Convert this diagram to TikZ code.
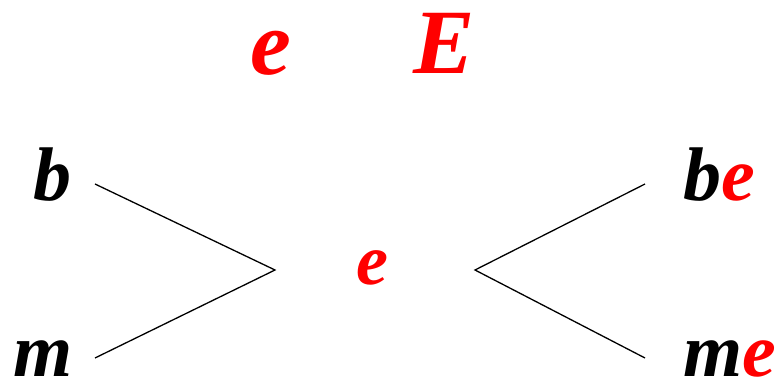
\documentclass[tikz,border=0pt]{standalone}
\usepackage{fontspec}
\setmainfont{Liberation Serif}
\definecolor{myred}{RGB}{255,0,0}
\begin{document}
\begin{tikzpicture}[x=1pt,y=-1pt,
  lbl/.style={inner sep=0pt,anchor=base,font=\fontsize{76}{80}\selectfont\bfseries\itshape},
  toplbl/.style={inner sep=0pt,anchor=base,text=myred,font=\fontsize{92}{96}\selectfont\bfseries\itshape},
  conn/.style={line width=1.3pt,black}]
\useasboundingbox (0,0) rectangle (777,379);
\node[toplbl] (te) at (271,75) {e};
\node[toplbl] (tE) at (444,74) {E};
\node[lbl] (b) at (53,201) {b};
\node[lbl] (m) at (43,377) {m};
\node[lbl,text=myred,font=\fontsize{72}{76}\selectfont\bfseries\itshape] (ce) at (372,285) {e};
\node[lbl,anchor=base west] (be) at (683,201) {b\textcolor{myred}{e}};
\node[lbl,anchor=base west] (me) at (683,377) {m\textcolor{myred}{e}};
\coordinate (l1) at (95,184);
\coordinate (l2) at (95,358);
\coordinate (lc) at (275,270);
\coordinate (rc) at (475,270);
\coordinate (r1) at (645,184);
\coordinate (r2) at (645,358);
\draw[conn] (l1) -- (lc) -- (l2);
\draw[conn] (r1) -- (rc) -- (r2);
\end{tikzpicture}
\end{document}
